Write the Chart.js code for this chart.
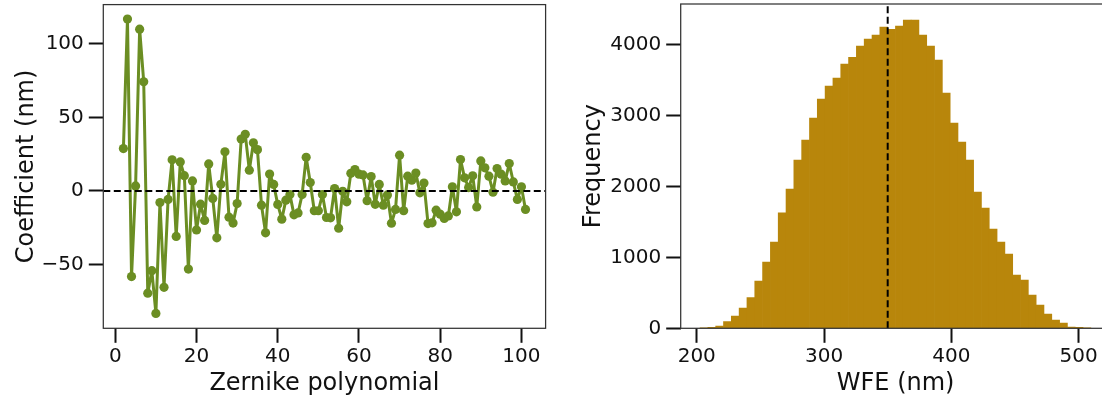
<!DOCTYPE html>
<html><head><meta charset="utf-8">
<script src="https://cdn.jsdelivr.net/npm/chart.js@4.4.1/dist/chart.umd.min.js"></script>
<style>
html,body{margin:0;padding:0;background:#fff;overflow:hidden;width:1102px;height:400px;}
canvas{position:absolute;top:0;}
#c1{left:0;} #c2{left:560px;}
</style></head><body>
<canvas id="c1" width="560" height="400"></canvas>
<canvas id="c2" width="560" height="400"></canvas>
<script>
// ---------- data ----------
const zernikeIndex = [2,3,4,5,6,7,8,9,10,11,12,13,14,15,16,17,18,19,20,21,22,23,24,25,26,27,28,29,30,31,32,33,34,35,36,37,38,39,40,41,42,43,44,45,46,47,48,49,50,51,52,53,54,55,56,57,58,59,60,61,62,63,64,65,66,67,68,69,70,71,72,73,74,75,76,77,78,79,80,81,82,83,84,85,86,87,88,89,90,91,92,93,94,95,96,97,98,99,100,101];
const coefficientsNm = [28.8,117.0,-58.3,3.4,110.1,74.3,-69.6,-54.3,-83.4,-7.9,-65.6,-5.8,21.2,-31.0,19.7,10.4,-53.2,6.8,-26.6,-9.0,-20.1,18.4,-5.1,-31.9,4.5,26.6,-17.9,-21.9,-8.6,35.3,38.5,14.1,32.7,28.1,-9.7,-28.5,11.5,4.4,-9.2,-19.2,-6.3,-2.5,-16.3,-15.0,-2.5,22.9,5.7,-13.5,-13.5,-2.5,-18.1,-18.3,1.6,-25.4,-0.3,-7.4,12.0,14.5,11.4,10.9,-6.7,9.8,-9.1,4.4,-9.7,-2.7,-22.0,-12.6,24.3,-13.5,10.0,7.3,12.2,-1.3,5.4,-22.2,-21.7,-13.1,-15.8,-18.7,-17.0,2.8,-14.2,21.3,8.9,2.3,10.3,-10.9,20.4,15.7,10.0,-0.9,15.2,11.4,6.8,18.6,6.1,-5.8,2.8,-12.6];
const zernikeTicks = [0,20,40,60,80,100];
const coefTicks = [-50,0,50,100];

const wfeBinStart = 202.6;   // nm, left edge of first bin
const wfeBinWidth = 6.14;    // nm
const wfeCounts = [5,14,32,93,173,286,431,666,934,1216,1628,1962,2370,2652,2962,3230,3413,3526,3723,3817,3976,4075,4131,4244,4211,4258,4342,4342,4131,3976,3779,3314,2892,2624,2370,1920,1694,1399,1216,1047,751,680,469,328,201,117,75,18,14,4];
const wfeMean = 350;
const wfeTicks = [200,300,400,500];
const freqTicks = [0,1000,2000,3000,4000];

// ---------- styling ----------
const FONT = 'DejaVu Sans';
const INK = '#111';
const tickFont = {family: FONT, size: 20};
const titleFont = {family: FONT, size: 24};
const gridOpts = {display:true, drawOnChartArea:false, drawTicks:true, tickLength:14.5, tickWidth:2, tickColor:INK};
const fmt = v => v < 0 ? '\u2212' + Math.abs(v) : String(v);
const fitX = h => s => { s.height = h; s.paddingLeft = 0; s.paddingRight = 0; };
const fitY = w => s => { s.width = w; s.paddingTop = 0; s.paddingBottom = 0; };

const framePlugin = {
  id: 'frame',
  afterDatasetsDraw(chart) {
    const {ctx, chartArea: {left, top, right, bottom}} = chart;
    ctx.save();
    ctx.strokeStyle = '#333';
    ctx.lineWidth = 1.25;
    ctx.strokeRect(left, top, right - left, bottom - top);
    ctx.restore();
  }
};

// ---------- left chart ----------
const xMin1 = -2.95, xMax1 = 105.95;
new Chart(document.getElementById('c1'), {
  type: 'scatter',
  data: {
    datasets: [
      {
        data: zernikeIndex.map((n, i) => ({x: n, y: coefficientsNm[i]})),
        showLine: true,
        borderColor: '#6b8e23',
        backgroundColor: '#6b8e23',
        borderWidth: 3,
        borderJoinStyle: 'round',
        borderCapStyle: 'round',
        pointRadius: 4.6,
        pointBorderWidth: 0,
        pointHoverRadius: 4.6,
        order: 1
      },
      {
        data: [{x: xMin1, y: 0}, {x: xMax1, y: 0}],
        showLine: true,
        borderColor: '#000',
        borderWidth: 2,
        borderDash: [7, 3.5],
        pointRadius: 0,
        order: 0
      }
    ]
  },
  options: {
    responsive: false, animation: false, devicePixelRatio: 1,
    layout: {padding: {left: 0, right: 14.4, top: 4, bottom: 0}},
    plugins: {legend: {display: false}, tooltip: {enabled: false}},
    scales: {
      x: {
        type: 'linear', min: xMin1, max: xMax1, offset: false,
        afterBuildTicks: s => { s.ticks = zernikeTicks.map(v => ({value: v})); },
        afterFit: fitX(71.7),
        grid: gridOpts, border: {display: false},
        ticks: {font: tickFont, color: INK, padding: 2, maxRotation: 0, autoSkip: false, callback: fmt},
        title: {display: true, text: 'Zernike polynomial', font: titleFont, color: INK, padding: {top: 0, bottom: 2.2}}
      },
      y: {
        type: 'linear', min: -93.5, max: 126.8,
        afterBuildTicks: s => { s.ticks = coefTicks.map(v => ({value: v})); },
        afterFit: fitY(103.3),
        grid: gridOpts, border: {display: false},
        ticks: {font: tickFont, color: INK, padding: 5, autoSkip: false, callback: fmt},
        title: {display: true, text: 'Coefficient (nm)', font: titleFont, color: INK, padding: {top: 12.3, bottom: 0}}
      }
    }
  },
  plugins: [framePlugin]
});

// ---------- right chart ----------
const yMax2 = 4568;
const wfeBinCenters = wfeCounts.map((_, k) => wfeBinStart + wfeBinWidth * (k + 0.5));
new Chart(document.getElementById('c2'), {
  type: 'bar',
  data: {
    datasets: [
      {
        type: 'bar',
        data: wfeBinCenters.map((c, k) => ({x: c, y: wfeCounts[k]})),
        backgroundColor: '#b8860b',
        borderWidth: 0,
        barPercentage: 1,
        categoryPercentage: 1,
        order: 1
      },
      {
        type: 'line',
        data: [{x: wfeMean, y: 0}, {x: wfeMean, y: yMax2}],
        borderColor: '#000',
        borderWidth: 2,
        borderDash: [7, 3.5],
        pointRadius: 0,
        order: 0
      }
    ]
  },
  options: {
    responsive: false, animation: false, devicePixelRatio: 1,
    layout: {padding: {left: 0, right: 9.4, top: 4, bottom: 0}},
    plugins: {legend: {display: false}, tooltip: {enabled: false}},
    scales: {
      x: {
        type: 'linear', min: 187.4, max: 525.1, offset: false,
        afterBuildTicks: s => { s.ticks = wfeTicks.map(v => ({value: v})); },
        afterFit: fitX(71.7),
        grid: Object.assign({}, gridOpts, {offset: false}), border: {display: false},
        ticks: {font: tickFont, color: INK, padding: 2, maxRotation: 0, autoSkip: false, callback: fmt},
        title: {display: true, text: 'WFE (nm)', font: titleFont, color: INK, padding: {top: 0, bottom: 2.2}}
      },
      y: {
        type: 'linear', min: 0, max: yMax2,
        afterBuildTicks: s => { s.ticks = freqTicks.map(v => ({value: v})); },
        afterFit: fitY(120.7),
        grid: gridOpts, border: {display: false},
        ticks: {font: tickFont, color: INK, padding: 5, autoSkip: false, callback: fmt},
        title: {display: true, text: 'Frequency', font: titleFont, color: INK, padding: {top: 19, bottom: 0}}
      }
    }
  },
  plugins: [framePlugin]
});
</script>
</body></html>
